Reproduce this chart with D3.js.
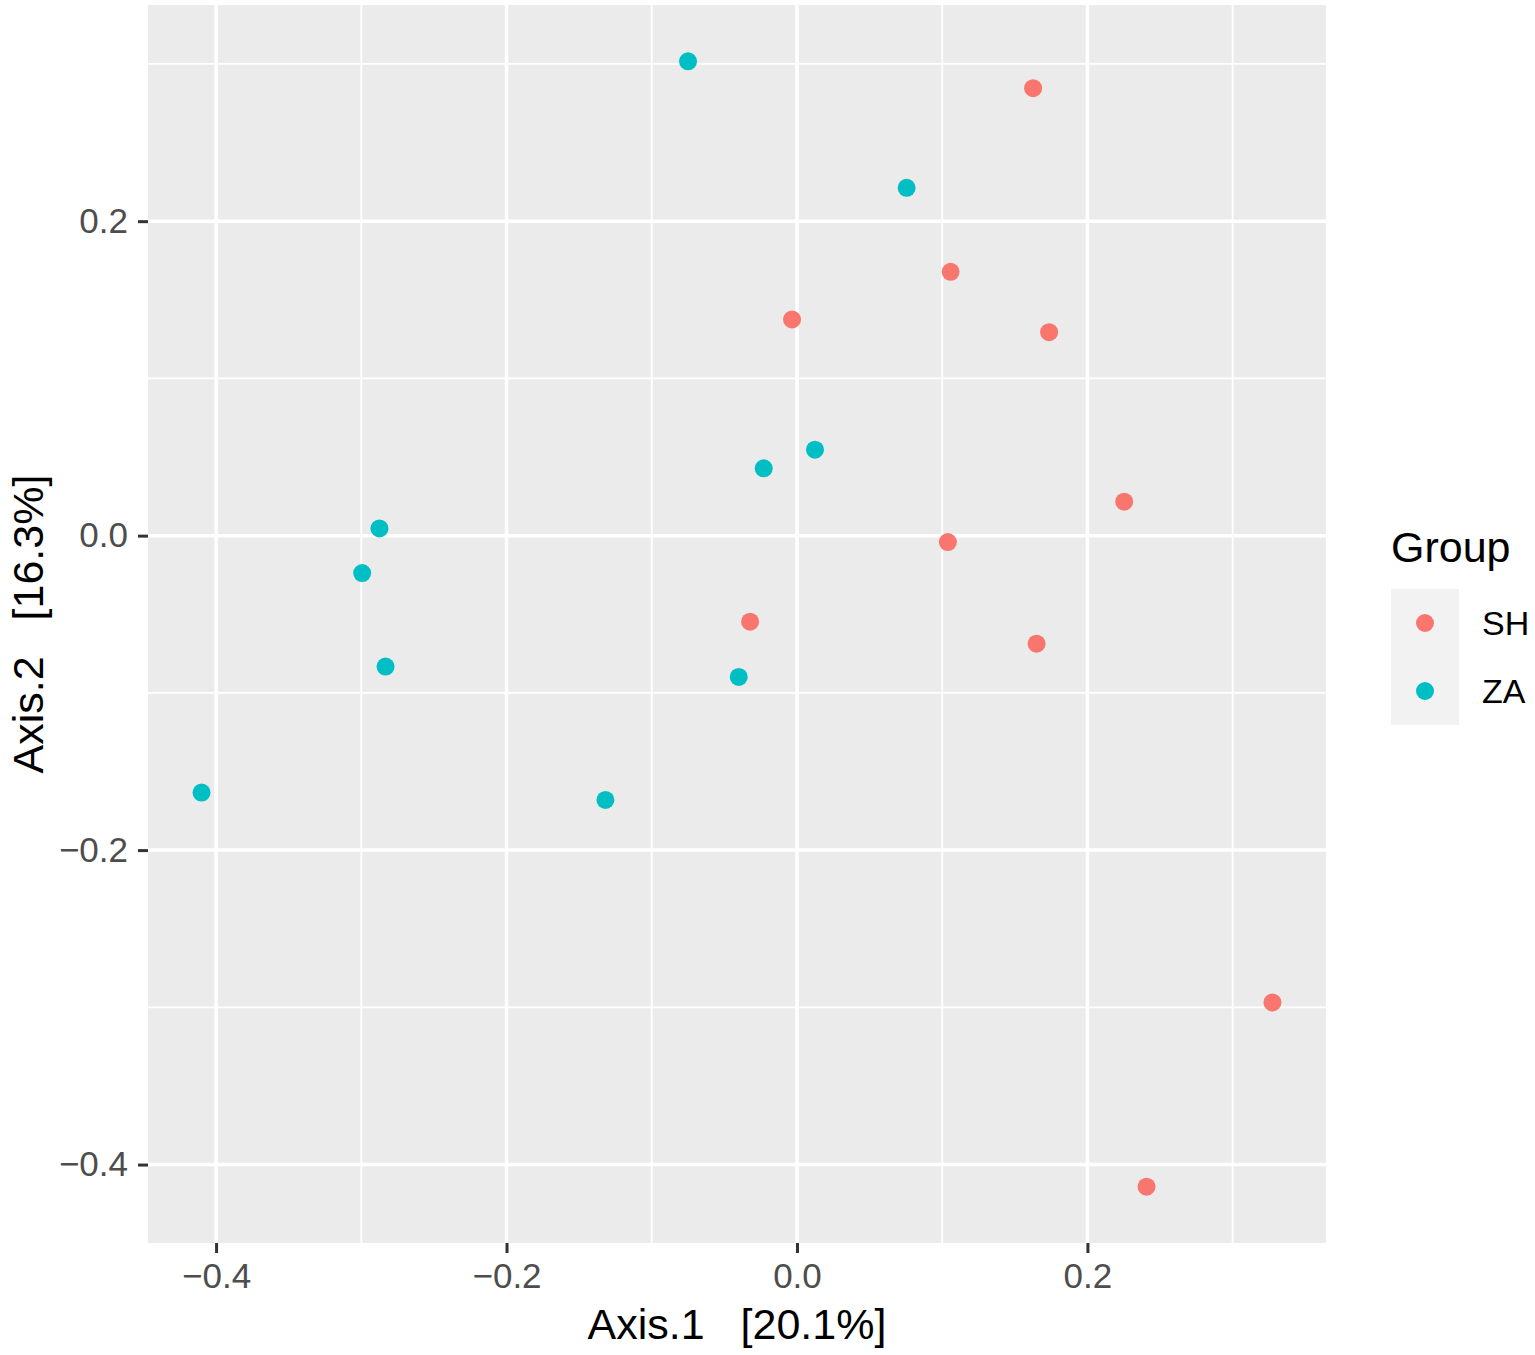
<!DOCTYPE html>
<html>
<head>
<meta charset="utf-8">
<script src="https://cdn.jsdelivr.net/npm/d3@7"></script>
<style>
    body { margin: 0; background: #ffffff; }
    text { font-family: "Liberation Sans", Arial, sans-serif; }
</style>
</head>
<body>
<div id="chart"></div>
<script>
// PCoA scores
const groups = ["SH", "ZA"];
const groupColors = ["#F8766D", "#00BFC4"];

const shAxis1 = [0.1626, 0.1058, -0.0034, 0.1736, 0.2253, 0.1039, -0.0323, 0.1650, 0.3274, 0.2407];
const shAxis2 = [0.2846, 0.1678, 0.1375, 0.1294, 0.0216, -0.0041, -0.0547, -0.0687, -0.2969, -0.4141];

const zaAxis1 = [-0.0750, 0.0755, 0.0124, -0.0229, -0.0401, -0.2875, -0.2994, -0.2833, -0.4100, -0.1319];
const zaAxis2 = [0.3017, 0.2212, 0.0547, 0.0428, -0.0899, 0.0046, -0.0238, -0.0833, -0.1634, -0.1681];

const xTicks = [-0.4, -0.2, 0.0, 0.2];
const yTicks = [-0.4, -0.2, 0.0, 0.2];
const xMinor = [-0.3, -0.1, 0.1, 0.3];
const yMinor = [-0.3, -0.1, 0.1, 0.3];

const xTitle = "Axis.1   [20.1%]";
const yTitle = "Axis.2   [16.3%]";
const legendTitle = "Group";

const width = 1535;
const height = 1355;
const panel = {left: 148, top: 5, right: 1326, bottom: 1243};

const points = [];
shAxis1.forEach((v, i) => points.push({x: v, y: shAxis2[i], group: "SH"}));
zaAxis1.forEach((v, i) => points.push({x: v, y: zaAxis2[i], group: "ZA"}));

// ggplot style 5% expansion
function expand(ext) {
    const pad = (ext[1] - ext[0]) * 0.05;
    return [ext[0] - pad, ext[1] + pad];
}

const xScale = d3.scaleLinear()
    .domain(expand(d3.extent(points, d => d.x)))
    .range([panel.left, panel.right]);

const yScale = d3.scaleLinear()
    .domain(expand(d3.extent(points, d => d.y)))
    .range([panel.bottom, panel.top]);

const color = d3.scaleOrdinal().domain(groups).range(groupColors);

const svg = d3.select("#chart").append("svg")
    .attr("width", width)
    .attr("height", height);

// panel background
svg.append("rect")
    .attr("x", panel.left)
    .attr("y", panel.top)
    .attr("width", panel.right - panel.left)
    .attr("height", panel.bottom - panel.top)
    .attr("fill", "#ebebeb");

// minor grid
svg.selectAll(".minor-x").data(xMinor).enter().append("line")
    .attr("x1", d => xScale(d)).attr("x2", d => xScale(d))
    .attr("y1", panel.top).attr("y2", panel.bottom)
    .style("stroke", "white").style("stroke-width", "1.8px");

svg.selectAll(".minor-y").data(yMinor).enter().append("line")
    .attr("x1", panel.left).attr("x2", panel.right)
    .attr("y1", d => yScale(d)).attr("y2", d => yScale(d))
    .style("stroke", "white").style("stroke-width", "1.8px");

// major grid
svg.selectAll(".major-x").data(xTicks).enter().append("line")
    .attr("x1", d => xScale(d)).attr("x2", d => xScale(d))
    .attr("y1", panel.top).attr("y2", panel.bottom)
    .style("stroke", "white").style("stroke-width", "3.5px");

svg.selectAll(".major-y").data(yTicks).enter().append("line")
    .attr("x1", panel.left).attr("x2", panel.right)
    .attr("y1", d => yScale(d)).attr("y2", d => yScale(d))
    .style("stroke", "white").style("stroke-width", "3.5px");

// axes
const fmt = d3.format(".1f");

const xAxis = svg.append("g")
    .attr("transform", `translate(0,${panel.bottom})`)
    .call(d3.axisBottom(xScale).tickValues(xTicks).tickFormat(fmt).tickSize(10).tickPadding(10));

const yAxis = svg.append("g")
    .attr("transform", `translate(${panel.left},0)`)
    .call(d3.axisLeft(yScale).tickValues(yTicks).tickFormat(fmt).tickSize(10).tickPadding(10));

[xAxis, yAxis].forEach(ax => {
    ax.select(".domain").remove();
    ax.selectAll(".tick line").style("stroke", "#333333").style("stroke-width", "3px");
    ax.selectAll(".tick text")
        .style("font-family", "'Liberation Sans', Arial, sans-serif")
        .style("font-size", "35px")
        .style("fill", "#4d4d4d");
});

// points
svg.selectAll(".pt").data(points).enter().append("circle")
    .attr("cx", d => xScale(d.x))
    .attr("cy", d => yScale(d.y))
    .attr("r", 9)
    .style("fill", d => color(d.group));

// axis titles
svg.append("text")
    .attr("x", (panel.left + panel.right) / 2)
    .attr("y", 1339)
    .attr("text-anchor", "middle")
    .style("font-size", "43px")
    .style("fill", "black")
    .style("white-space", "pre")
    .text(xTitle);

svg.append("text")
    .attr("transform", `translate(43,${(panel.top + panel.bottom) / 2}) rotate(-90)`)
    .attr("text-anchor", "middle")
    .style("font-size", "43px")
    .style("fill", "black")
    .style("white-space", "pre")
    .text(yTitle);

// legend
const legend = svg.append("g").attr("transform", "translate(1391,0)");

legend.append("text")
    .attr("x", 0)
    .attr("y", 562)
    .style("font-size", "43px")
    .style("fill", "black")
    .text(legendTitle);

const keySize = 68;
const keys = legend.selectAll(".key").data(groups).enter().append("g")
    .attr("transform", (d, i) => `translate(0,${589 + i * keySize})`);

keys.append("rect")
    .attr("width", keySize)
    .attr("height", keySize)
    .attr("fill", "#f2f2f2");

keys.append("circle")
    .attr("cx", keySize / 2)
    .attr("cy", keySize / 2)
    .attr("r", 9)
    .style("fill", d => color(d));

keys.append("text")
    .attr("x", 91)
    .attr("y", keySize / 2 + 12)
    .style("font-size", "34px")
    .style("fill", "black")
    .text(d => d);
</script>
</body>
</html>
